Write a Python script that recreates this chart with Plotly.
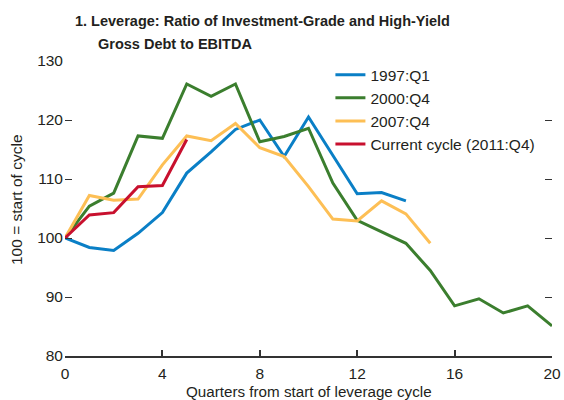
import plotly.graph_objects as go

quarters = list(range(0, 21))

s1997 = [100, 98.4, 97.9, 100.8, 104.3, 111.0, 114.6, 118.4, 120.0, 113.8, 120.5, 114.1, 107.5, 107.7, 106.3]
s2000 = [100, 105.4, 107.6, 117.3, 116.9, 126.1, 124.0, 126.1, 116.3, 117.2, 118.6, 109.3, 103.0, 101.1, 99.1, 94.5, 88.5, 89.7, 87.3, 88.5, 85.1]
s2007 = [100, 107.2, 106.4, 106.6, 112.4, 117.3, 116.5, 119.4, 115.3, 113.8, 108.7, 103.2, 102.9, 106.3, 104.1, 99.1]
scurr = [100, 103.9, 104.3, 108.7, 108.9, 116.7]

names = ["1997:Q1", "2000:Q4", "2007:Q4", "Current cycle (2011:Q4)"]
colors = ["#0a7fc6", "#3b7e2e", "#fdbf55", "#c8102e"]
series = [s1997, s2000, s2007, scurr]

x_ticks = [0, 4, 8, 12, 16, 20]
y_ticks = [80, 90, 100, 110, 120, 130]

FONT = "Liberation Sans, Arial, sans-serif"
TXT = "#231f20"
FS = 15.5

fig = go.Figure()
for i, (name, color, vals) in enumerate(zip(names, colors, series)):
    fig.add_trace(go.Scatter(
        x=quarters[:len(vals)], y=vals, mode="lines", name=name,
        legendgroup=f"g{i}",
        line=dict(color=color, width=3),
    ))

fig.update_layout(
    template="none",
    width=564, height=400,
    margin=dict(l=65, r=12, t=61, b=44, autoexpand=False),
    paper_bgcolor="white", plot_bgcolor="white",
    font=dict(family=FONT, size=FS, color=TXT),
    showlegend=True,
    legend=dict(
        x=0.545, y=1.01, xanchor="left", yanchor="top",
        bgcolor="rgba(0,0,0,0)", font=dict(size=FS, color=TXT),
        tracegroupgap=0, itemwidth=30,
    ),
    xaxis=dict(
        range=[0, 20], tickvals=x_ticks, ticks="inside", ticklen=6,
        tickwidth=1.5, tickcolor="#333", showline=True, linecolor="#333",
        linewidth=1.5, showgrid=False, zeroline=False, automargin=False,
        tickfont=dict(size=FS, color=TXT), ticklabelstandoff=3,
    ),
    yaxis=dict(
        range=[80, 130], tickvals=y_ticks, ticks="inside", ticklen=7,
        tickwidth=1.2, tickcolor="#333", showline=False, mirror="ticks",
        showgrid=False, zeroline=False, automargin=False,
        tickfont=dict(size=FS, color=TXT), ticklabelstandoff=1,
    ),
)

fig.add_annotation(
    text="<b>1. Leverage: Ratio of Investment-Grade and High-Yield</b>",
    xref="paper", yref="paper", x=(73 - 65) / 487, y=(356 - 21) / 295,
    xanchor="left", yanchor="middle", showarrow=False,
    font=dict(family=FONT, size=14.5, color=TXT),
)
fig.add_annotation(
    text="<b>Gross Debt to EBITDA</b>",
    xref="paper", yref="paper", x=(96 - 65) / 487, y=(356 - 44) / 295,
    xanchor="left", yanchor="middle", showarrow=False,
    font=dict(family=FONT, size=14.5, color=TXT),
)
fig.add_annotation(
    text="Quarters from start of leverage cycle",
    xref="paper", yref="paper", x=0.5, y=(356 - 381) / 295,
    xanchor="center", yanchor="top", showarrow=False,
    font=dict(family=FONT, size=15.2, color=TXT),
)
fig.add_annotation(
    text="100 = start of cycle",
    xref="paper", yref="paper", x=(16 - 65) / 487, y=(356 - 200) / 295,
    xanchor="center", yanchor="middle", showarrow=False, textangle=-90,
    font=dict(family=FONT, size=FS, color=TXT),
)

fig.write_html(
    "out.html",
    config={"displayModeBar": False},
    post_script="document.body.style.margin='0';document.body.style.overflow='hidden';",
)
